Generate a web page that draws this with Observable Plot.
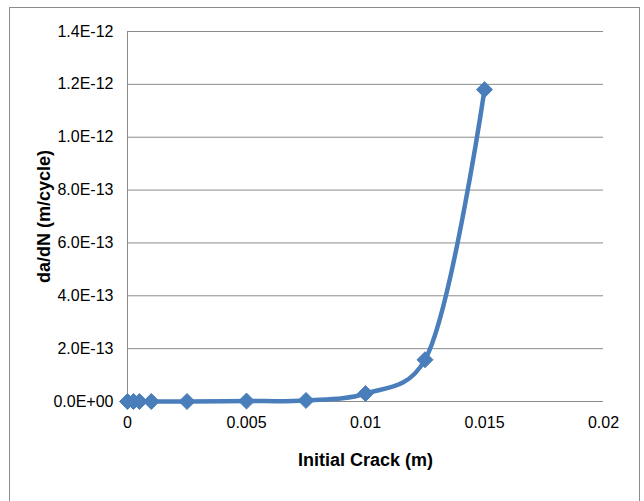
<!DOCTYPE html>
<html>
<head>
<meta charset="utf-8">
<script src="https://cdn.jsdelivr.net/npm/d3@7"></script>
<script src="https://cdn.jsdelivr.net/npm/@observablehq/plot@0.6"></script>
<style>
  html, body { margin: 0; padding: 0; background: #fff; }
  #wrap { position: relative; width: 644px; height: 501px; overflow: hidden; }
  #frame { position: absolute; left: 9px; top: 7px; width: 631px; height: 510px; border: 1px solid #8c8c8c; box-sizing: border-box; }
  #chart { position: absolute; left: 0; top: 0; }
</style>
</head>
<body>
<div id="wrap"><div id="frame"></div><div id="chart"></div></div>
<script>
const crack = [0, 0.00025, 0.0005, 0.001, 0.0025, 0.005, 0.0075, 0.01, 0.0125, 0.015];
const rate  = [0, 0, 0, 1e-17, 1e-16, 1.7e-15, 4e-15, 3.0e-14, 1.58e-13, 1.18e-12];
const xTicks = [0, 0.005, 0.01, 0.015, 0.02];
const yTicks = [0, 2e-13, 4e-13, 6e-13, 8e-13, 1e-12, 1.2e-12, 1.4e-12];

const data = crack.map((c, i) => ({crack: c, rate: rate[i]}));

function sci(d) {
  const [m, e] = d.toExponential(1).split("e");
  const sign = e[0] === "-" ? "-" : "+";
  const digits = e.replace(/^[+-]/, "").padStart(2, "0");
  return m + "E" + sign + digits;
}

const blue = "#4a7ebb";
const chart = Plot.plot({
  width: 644,
  height: 501,
  marginLeft: 127,
  marginRight: 41,
  marginTop: 31,
  marginBottom: 100,
  style: {fontFamily: "Liberation Sans, Arial, sans-serif", fontSize: "16px", color: "#000", background: "transparent"},
  x: {domain: [0, 0.02]},
  y: {domain: [0, 1.4e-12]},
  marks: [
    Plot.ruleY(yTicks, {stroke: "#8c8c8c", strokeWidth: 1}),
    Plot.ruleX([0], {stroke: "#8c8c8c", strokeWidth: 1}),
    Plot.axisY({ticks: yTicks, tickFormat: sci, tickSize: 0, tickPadding: 14,
      label: "da/dN (m/cycle)", labelAnchor: "center", labelOffset: 90, labelArrow: "none",
      fontSize: 16}),
    Plot.axisX({ticks: xTicks, tickFormat: d => String(d), tickSize: 0, tickPadding: 15,
      label: "Initial Crack (m)", labelAnchor: "center", labelOffset: 64, labelArrow: "none",
      fontSize: 16}),
    Plot.line(data, {x: "crack", y: "rate", stroke: blue, strokeWidth: 4.5, curve: "catmull-rom", tension: 0.3}),
    Plot.dot(data, {x: "crack", y: "rate", symbol: "diamond2", r: 7.2, fill: blue, stroke: blue, strokeWidth: 1})
  ]
});
document.getElementById("chart").appendChild(chart);
d3.select(chart).selectAll("g[aria-label='y-axis label'], g[aria-label='x-axis label']")
  .style("font-weight", "bold").style("font-size", "18px");
</script>
</body>
</html>
